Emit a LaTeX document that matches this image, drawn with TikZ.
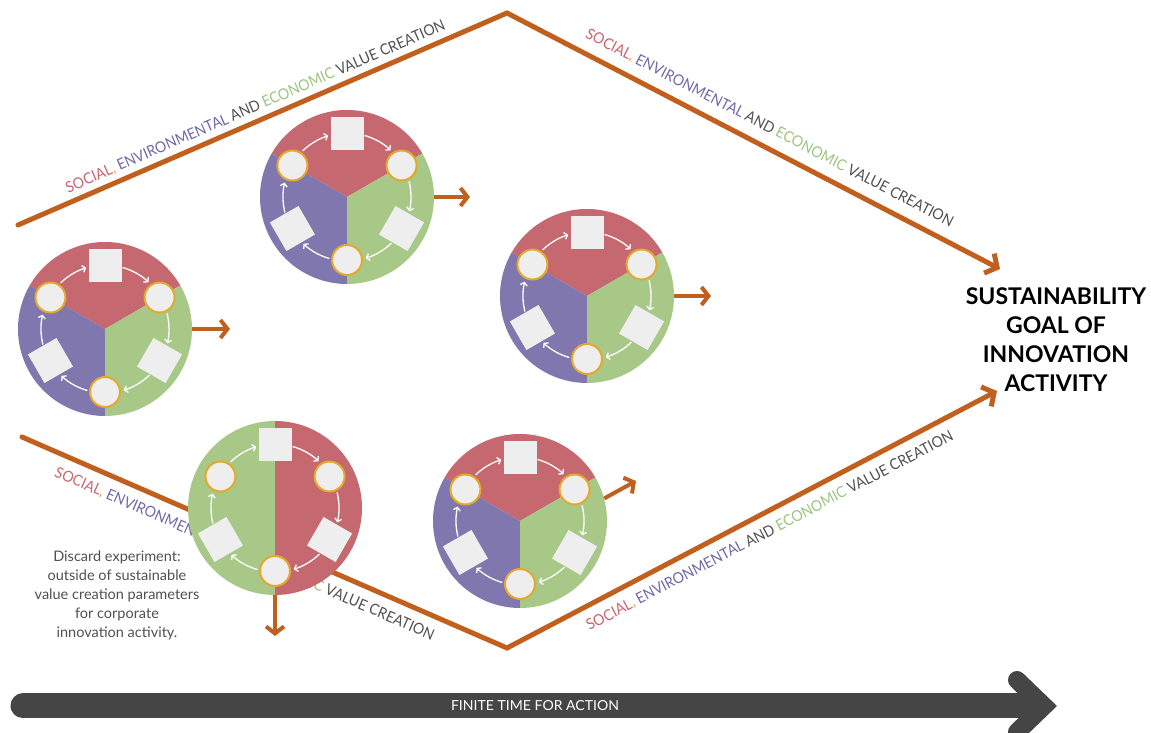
\documentclass[tikz,border=0pt]{standalone}
\usepackage{fontspec}
\setmainfont{Lato}
\usepackage{graphicx}
\usetikzlibrary{arrows.meta,calc}
\definecolor{secred}{HTML}{C6686F}
\definecolor{secpurple}{HTML}{7F77AE}
\definecolor{secgreen}{HTML}{A8C888}
\definecolor{itemfill}{HTML}{EEEEEE}
\definecolor{ringcol}{HTML}{E6A82A}
\definecolor{flow}{HTML}{C1601E}
\definecolor{txtred}{HTML}{C8646E}
\definecolor{txtpurple}{HTML}{6F68A8}
\definecolor{txtgreen}{HTML}{9CC47E}
\definecolor{txtgray}{HTML}{505050}
\definecolor{commacol}{HTML}{E0A43A}
\definecolor{barcol}{HTML}{454545}
\newcommand{\valuelabel}{\textcolor{txtred}{SOCIAL}\textcolor{commacol}{,} \textcolor{txtpurple}{ENVIRONMENTAL} \textcolor{txtgray}{AND} \textcolor{txtgreen}{ECONOMIC} \textcolor{txtgray}{VALUE CREATION}}
\newcommand{\fitlabel}{\resizebox{412pt}{11pt}{\valuelabel}}
\tikzset{
  flowline/.style={draw=flow, line width=5pt, line cap=round, -{Straight Barb[length=9pt,width=22pt]}},
  smallflow/.style={draw=flow, line width=4pt, -{Straight Barb[length=7pt,width=18pt]}},
  wheel/.style={circle, minimum size=174pt, inner sep=0pt},
  cyc/.style={draw=white, line width=1.3pt, -{Straight Barb[length=3pt,width=7pt]}},
  vlabel/.style={sloped, inner sep=0pt},
  itemring/.pic={
    \foreach \a in {30,150,270}
      \filldraw[fill=itemfill, draw=ringcol, line width=2pt] (\a:63) circle[radius=15];
    \foreach \a in {90,210,330}{
      \begin{scope}[shift={(\a:63)}, rotate=\a-90]
        \fill[itemfill] (-16.5,-16.5) rectangle (16.5,16.5);
      \end{scope}
    }
    \foreach \a in {150,90,30,-30,-90,-150}
      \draw[cyc] (\a-16:64) arc[start angle=\a-16, end angle=\a-43, radius=64];
  },
  triwheel/.pic={
    \fill[secred] (0,0) -- (30:87) arc[start angle=30,end angle=150,radius=87] -- cycle;
    \fill[secpurple] (0,0) -- (150:87) arc[start angle=150,end angle=270,radius=87] -- cycle;
    \fill[secgreen] (0,0) -- (270:87) arc[start angle=270,end angle=390,radius=87] -- cycle;
    \pic {itemring};
  },
  halfwheel/.pic={
    \fill[secgreen] (90:87) arc[start angle=90,end angle=270,radius=87] -- cycle;
    \fill[secred] (-90:87) arc[start angle=-90,end angle=90,radius=87] -- cycle;
    \pic {itemring};
  }
}
\begin{document}
\begin{tikzpicture}[x=1pt,y=1pt]
\useasboundingbox (0,0) rectangle (1151,733);
\clip (0,0) rectangle (1151,733);
% path coordinates
\coordinate (t1) at (18,508);
\coordinate (t2) at (507,720);
\coordinate (t3) at (1000,464);
\coordinate (b1) at (22,296);
\coordinate (b2) at (507,85);
\coordinate (b3) at (997,342);
% main flow lines
\draw[flowline] (t1) -- (t2) -- (t3);
\draw[flowline] (b1) -- (b2) -- (b3);
% labels
\path (t1) -- node[vlabel, above=7pt, pos=0.497] (lab1) {\fitlabel} (t2);
\path (t2) -- node[vlabel, above=12pt, pos=0.515] (lab2) {\fitlabel} (t3);
\path (b1) -- node[vlabel, below=12pt, pos=0.474] (lab3) {\fitlabel} (b2);
\path (b2) -- node[vlabel, below=12pt, pos=0.519] (lab4) {\fitlabel} (b3);
% wheels
\node[wheel] (wA) at (105,404) {};
\node[wheel] (wB) at (347,536) {};
\node[wheel] (wC) at (587,437) {};
\node[wheel] (wD) at (520,212) {};
\node[wheel] (wE) at (275,225) {};
\pic at (wA.center) {triwheel};
\pic at (wB.center) {triwheel};
\pic at (wC.center) {triwheel};
\pic at (wD.center) {triwheel};
\pic at (wE.center) {halfwheel};
% small arrows
\coordinate (aA) at (230,404);
\coordinate (aB) at (470,536);
\coordinate (aC) at (711,437);
\coordinate (aD) at (636,252);
\coordinate (aE) at (275,97);
\draw[smallflow] (wA.east) -- (aA);
\draw[smallflow] (wB.east) -- (aB);
\draw[smallflow] (wC.east) -- (aC);
\draw[smallflow] (wD.15) -- (aD);
\draw[smallflow] (wE.south) -- (aE);
% goal text
\node[align=center, font=\fontsize{23}{29}\selectfont\bfseries, text=black] (goal) at (1056,393.5)
  {SUSTAINABILITY\\GOAL OF\\INNOVATION\\ACTIVITY};
% discard text
\node[align=center, font=\fontsize{14.5}{19}\selectfont, text=txtgray] (discard) at (117,138)
  {Discard experiment:\\outside of sustainable\\value creation parameters\\for corporate\\innovation activity.};
% time bar
\coordinate (barL) at (23,27);
\coordinate (barR) at (1035,27);
\draw[barcol, line width=25pt, line cap=round] (barL) -- (barR);
\coordinate (chT) at (1017,53);
\coordinate (chM) at (1044,27);
\coordinate (chB) at (1017,1);
\draw[barcol, line width=18pt, line cap=round, line join=miter] (chT) -- (chM) -- (chB);
\node[text=white, inner sep=0pt] (timelab) at (535,27) {\resizebox{168pt}{10pt}{FINITE TIME FOR ACTION}};
\end{tikzpicture}
\end{document}
